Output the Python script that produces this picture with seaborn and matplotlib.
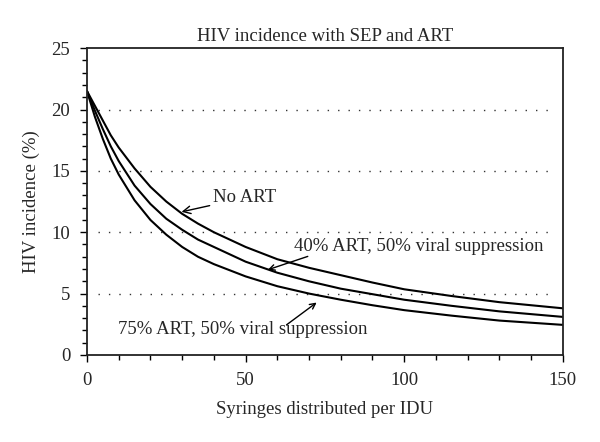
import matplotlib
matplotlib.use("Agg")
import matplotlib.pyplot as plt
import seaborn as sns
import pandas as pd
from matplotlib.ticker import MultipleLocator

# ---- data ----
syringes = [0, 2.5, 5, 7.5, 10, 15, 20, 25, 30, 35, 40, 50, 60, 70, 80, 90, 100, 115, 130, 150]
no_art = [21.5, 20.3, 19.1, 17.9, 16.9, 15.2, 13.7, 12.5, 11.5, 10.7, 10.0, 8.8, 7.8, 7.1, 6.5, 5.9, 5.35, 4.8, 4.3, 3.8]
art40 = [21.5, 19.9, 18.4, 17.0, 15.8, 13.8, 12.3, 11.1, 10.2, 9.4, 8.8, 7.6, 6.7, 6.0, 5.4, 4.95, 4.5, 4.0, 3.55, 3.1]
art75 = [21.5, 19.4, 17.6, 16.0, 14.7, 12.6, 11.0, 9.8, 8.8, 8.0, 7.4, 6.4, 5.6, 5.0, 4.5, 4.05, 3.65, 3.2, 2.8, 2.45]
scenarios = ["No ART", "40% ART, 50% viral suppression", "75% ART, 50% viral suppression"]
y_ticks = [0, 5, 10, 15, 20, 25]
x_ticks = [0, 50, 100, 150]
grid_levels = [5, 10, 15, 20]

df = pd.concat([
    pd.DataFrame({"x": syringes, "y": vals, "scenario": name})
    for name, vals in zip(scenarios, [no_art, art40, art75])
])

sns.set_style("white")
plt.rcParams["font.family"] = ["Liberation Serif", "DejaVu Serif"]

FS = 13.5
fig = plt.figure(figsize=(6.0, 4.42), dpi=100)
ax = fig.add_axes([0.145, 0.197, 0.793, 0.694])

for lv in grid_levels:
    ax.plot([3.5, 147], [lv, lv], color="#333333", lw=1.0, ls=(0, (1, 6.5)), zorder=0)

sns.lineplot(data=df, x="x", y="y", hue="scenario",
             palette=["black", "black", "black"], linewidth=1.5,
             legend=False, ax=ax, sort=False)

ax.set_xlim(0, 150)
ax.set_ylim(0, 25)
ax.set_xticks(x_ticks)
ax.set_yticks(y_ticks)
ax.xaxis.set_minor_locator(MultipleLocator(10))
ax.yaxis.set_minor_locator(MultipleLocator(1))
ax.tick_params(axis="both", which="major", direction="out", length=5, width=1.0,
               labelsize=FS, color="black", bottom=True, left=True, top=False, right=False)
ax.tick_params(axis="y", which="major", pad=7)
ax.tick_params(axis="x", which="major", pad=7)
ax.tick_params(axis="both", which="minor", direction="out", length=3.5, width=1.0,
               color="black", bottom=True, left=True, top=False, right=False)
for s in ax.spines.values():
    s.set_color("#222222")
    s.set_linewidth(1.3)

ax.set_title("HIV incidence with SEP and ART", fontsize=FS, pad=5)
ax.set_xlabel("Syringes distributed per IDU", fontsize=FS, labelpad=9)
ax.set_ylabel("HIV incidence (%)", fontsize=FS, labelpad=8)

arrow = dict(arrowstyle="->", color="black", lw=1.0, shrinkA=0, shrinkB=0)
ax.annotate(scenarios[0], xy=(29.8, 11.66), xytext=(39.7, 12.8),
            fontsize=FS, va="center", ha="left", arrowprops=arrow)
ax.annotate("", xy=(57.0, 6.94), xytext=(69.6, 8.03), arrowprops=arrow)
ax.text(65.2, 8.85, scenarios[1], fontsize=FS, va="center", ha="left")
ax.annotate("", xy=(72.4, 4.27), xytext=(62.9, 2.45), arrowprops=arrow)
ax.text(9.9, 2.04, scenarios[2], fontsize=FS, va="center", ha="left")

fig.savefig("out.png", dpi=100)
